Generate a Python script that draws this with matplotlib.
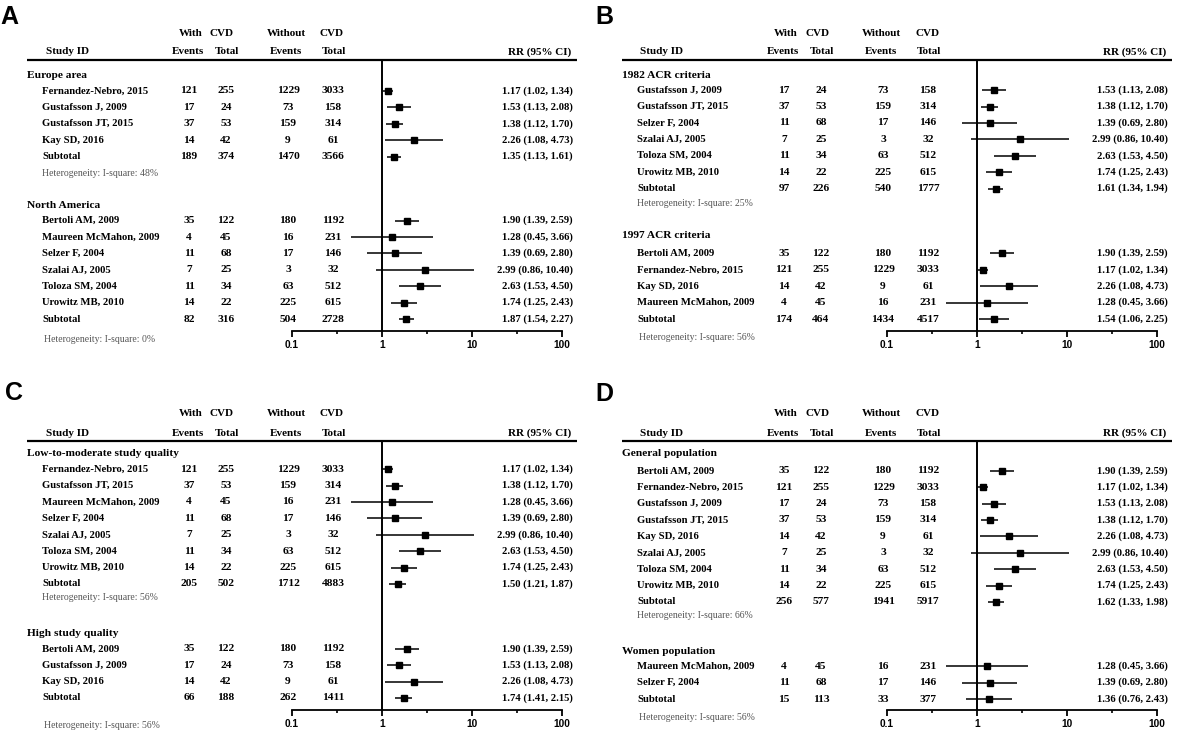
import matplotlib
matplotlib.use("Agg")
import matplotlib.pyplot as plt
from matplotlib.ticker import NullFormatter

# ---------------- data ----------------
study_names = ["Bertoli AM, 2009", "Fernandez-Nebro, 2015", "Gustafsson J, 2009",
               "Gustafsson JT, 2015", "Kay SD, 2016", "Maureen McMahon, 2009",
               "Selzer F, 2004", "Szalai AJ, 2005", "Toloza SM, 2004", "Urowitz MB, 2010"]
events_cvd = [35, 121, 17, 37, 14, 4, 11, 7, 11, 14]
total_cvd = [122, 255, 24, 53, 42, 45, 68, 25, 34, 22]
events_nocvd = [180, 1229, 73, 159, 9, 16, 17, 3, 63, 225]
total_nocvd = [1192, 3033, 158, 314, 61, 231, 146, 32, 512, 615]
rr = [1.90, 1.17, 1.53, 1.38, 2.26, 1.28, 1.39, 2.99, 2.63, 1.74]
rr_lo = [1.39, 1.02, 1.13, 1.12, 1.08, 0.45, 0.69, 0.86, 1.53, 1.25]
rr_hi = [2.59, 1.34, 2.08, 1.70, 4.73, 3.66, 2.80, 10.40, 4.50, 2.43]

panel_letters = ["A", "B", "C", "D"]
group_titles = [["Europe area", "North America"],
                ["1982 ACR criteria", "1997 ACR criteria"],
                ["Low-to-moderate study quality", "High study quality"],
                ["General population", "Women population"]]
group_members = [
    [["Fernandez-Nebro, 2015", "Gustafsson J, 2009", "Gustafsson JT, 2015", "Kay SD, 2016"],
     ["Bertoli AM, 2009", "Maureen McMahon, 2009", "Selzer F, 2004", "Szalai AJ, 2005",
      "Toloza SM, 2004", "Urowitz MB, 2010"]],
    [["Gustafsson J, 2009", "Gustafsson JT, 2015", "Selzer F, 2004", "Szalai AJ, 2005",
      "Toloza SM, 2004", "Urowitz MB, 2010"],
     ["Bertoli AM, 2009", "Fernandez-Nebro, 2015", "Kay SD, 2016", "Maureen McMahon, 2009"]],
    [["Fernandez-Nebro, 2015", "Gustafsson JT, 2015", "Maureen McMahon, 2009", "Selzer F, 2004",
      "Szalai AJ, 2005", "Toloza SM, 2004", "Urowitz MB, 2010"],
     ["Bertoli AM, 2009", "Gustafsson J, 2009", "Kay SD, 2016"]],
    [["Bertoli AM, 2009", "Fernandez-Nebro, 2015", "Gustafsson J, 2009", "Gustafsson JT, 2015",
      "Kay SD, 2016", "Szalai AJ, 2005", "Toloza SM, 2004", "Urowitz MB, 2010"],
     ["Maureen McMahon, 2009", "Selzer F, 2004"]],
]
sub_events_cvd = [[189, 82], [97, 174], [205, 66], [256, 15]]
sub_total_cvd = [[374, 316], [226, 464], [502, 188], [577, 113]]
sub_events_nocvd = [[1470, 504], [540, 1434], [1712, 262], [1941, 33]]
sub_total_nocvd = [[3566, 2728], [1777, 4517], [4883, 1411], [5917, 377]]
sub_rr = [[1.35, 1.87], [1.61, 1.54], [1.50, 1.74], [1.62, 1.36]]
sub_lo = [[1.13, 1.54], [1.34, 1.06], [1.21, 1.41], [1.33, 0.76]]
sub_hi = [[1.61, 2.27], [1.94, 2.25], [1.87, 2.15], [1.98, 2.43]]
i_square = [[48, 0], [25, 56], [56, 56], [66, 56]]

tick_values = [0.1, 1, 10, 100]
tick_labels = ["0.1", "1", "10", "100"]
minor_tick_values = [0.316, 3.16, 31.6]

# ---------------- layout (pixels) ----------------
W, H = 1179, 730
panel_dx = [0, 595, 0, 595]
letter_x = [0, 595, 5, 595]
letter_y = [17, 17, 393.5, 394]
header_line_y = [59.5, 59.5, 440.5, 440.5]
group_header_y = [[76, 205], [76, 235], [454, 633], [454, 651]]
subtotal_y = [[156.5, 319], [188.5, 319], [584, 698], [602, 699]]
het_y = [[173, 339], [203, 338], [597, 726], [615, 717]]
axis_y = [331, 331, 710, 710]
het_x = [42, 44]
ROW = 16.4

SERIF = "Liberation Serif"
SANS = "Liberation Sans"
FS_ROW = 7.7
FS_NUM = 8.2

fig = plt.figure(figsize=(W / 100, H / 100), dpi=100)
tax = fig.add_axes([0, 0, 1, 1])
tax.set_xlim(0, W)
tax.set_ylim(H, 0)
tax.axis("off")


def fmt_rr(v, lo, hi):
    return f"{v:.2f} ({lo:.2f}, {hi:.2f})"


def row_text(dx, y, name, e1, t1, e2, t2, rtxt, name_x=42):
    kw = dict(family=SERIF, fontweight="bold", fontsize=FS_ROW, va="center")
    nk = dict(family=SERIF, fontweight="bold", fontsize=FS_NUM, va="center", ha="center")
    tax.text(dx + name_x, y, name, ha="left", **kw)
    tax.text(dx + 189, y, str(e1), **nk)
    tax.text(dx + 226, y, str(t1), **nk)
    tax.text(dx + 288, y, str(e2), **nk)
    tax.text(dx + 333, y, str(t2), **nk)
    tax.text(dx + 573, y, rtxt, ha="right", **kw)


for p in range(4):
    dx = panel_dx[p]
    hl = header_line_y[p]
    ay = axis_y[p]

    # panel letter
    tax.text(letter_x[p], letter_y[p], panel_letters[p], family=SANS, fontweight="bold",
             fontsize=18, ha="left", va="center")

    # column headers
    hkw = dict(family=SERIF, fontweight="bold", fontsize=8, va="center", ha="center")
    y1, y2 = hl - 26.5, hl - 7.5
    tax.text(dx + 191, y1, "With", **hkw)
    tax.text(dx + 222, y1, "CVD", **hkw)
    tax.text(dx + 286, y1, "Without", **hkw)
    tax.text(dx + 332, y1, "CVD", **hkw)
    tax.text(dx + 67, y2, "Study ID", **hkw)
    tax.text(dx + 188, y2, "Events", **hkw)
    tax.text(dx + 227, y2, "Total", **hkw)
    tax.text(dx + 286, y2, "Events", **hkw)
    tax.text(dx + 334, y2, "Total", **hkw)
    tax.text(dx + 571, y2, "RR (95% CI)", family=SERIF, fontweight="bold", fontsize=8,
             va="center", ha="right")
    tax.plot([dx + 27, dx + 577], [hl, hl], color="black", lw=1.6, solid_capstyle="butt")

    # forest axes
    x01, x100 = 292 + dx, 562 + dx
    ax = fig.add_axes([x01 / W, 1 - ay / H, (x100 - x01) / W, (ay - hl) / H])
    ax.patch.set_alpha(0)
    ax.set_xscale("log")
    ax.set_xlim(0.1, 100)
    ax.set_ylim(ay, hl)
    for s in ["left", "right", "top"]:
        ax.spines[s].set_visible(False)
    ax.spines["bottom"].set_linewidth(1.3)
    ax.set_yticks([])
    ax.set_xticks(tick_values, tick_labels)
    ax.set_xticks(minor_tick_values, minor=True)
    ax.xaxis.set_minor_formatter(NullFormatter())
    ax.tick_params(axis="x", which="major", direction="out", length=4, width=1.3, pad=2.3,
                   labelsize=7.3)
    ax.tick_params(axis="x", which="minor", direction="out", length=2, width=1.2)
    for lbl in ax.get_xticklabels():
        lbl.set_fontfamily(SANS)
        lbl.set_fontweight("bold")
    ax.axvline(1, color="black", lw=1.4)

    for g in range(2):
        gy = group_header_y[p][g]
        sy = subtotal_y[p][g]
        members = group_members[p][g]
        n = len(members)
        tax.text(dx + 27, gy, group_titles[p][g], family=SERIF, fontweight="bold",
                 fontsize=8.2, ha="left", va="center")
        ys = [sy - (n - i) * ROW for i in range(n)]
        for name, y in zip(members, ys):
            k = study_names.index(name)
            row_text(dx, y, name, events_cvd[k], total_cvd[k], events_nocvd[k], total_nocvd[k],
                     fmt_rr(rr[k], rr_lo[k], rr_hi[k]))
            ax.hlines(y, rr_lo[k], rr_hi[k], color="black", lw=1.1, clip_on=False)
            ax.plot([rr[k]], [y], marker="s", ms=4.8, color="black", clip_on=False)
        row_text(dx, sy, "Subtotal", sub_events_cvd[p][g], sub_total_cvd[p][g],
                 sub_events_nocvd[p][g], sub_total_nocvd[p][g],
                 fmt_rr(sub_rr[p][g], sub_lo[p][g], sub_hi[p][g]))
        ax.hlines(sy, sub_lo[p][g], sub_hi[p][g], color="black", lw=1.1, clip_on=False)
        ax.plot([sub_rr[p][g]], [sy], marker="s", ms=4.0, color="black", clip_on=False)
        tax.text(dx + het_x[g], het_y[p][g], f"Heterogeneity: I-square: {i_square[p][g]}%",
                 family=SERIF, fontsize=7, color="#555555", ha="left", va="center")

fig.savefig("out.png", dpi=100)
